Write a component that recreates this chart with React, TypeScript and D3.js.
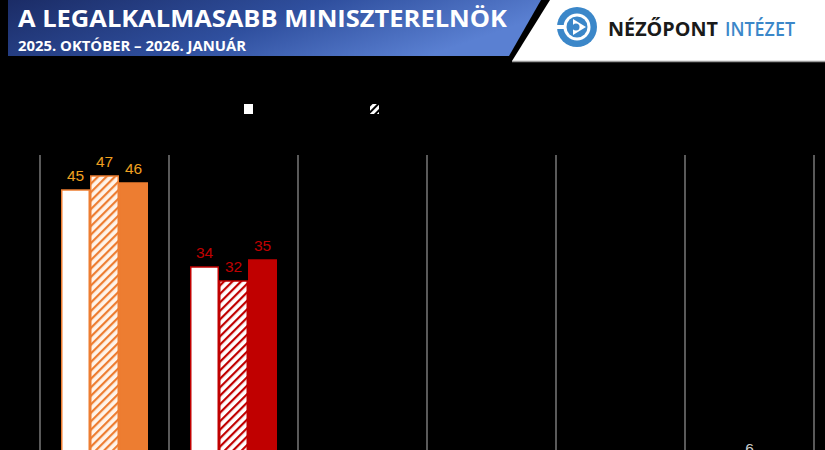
import React from "react";
import * as d3 from "d3";

const categories = ["c1", "c2", "c3", "c4", "c5", "c6"];
const seriesKeys = ["okt", "dec", "jan"];
const seriesOkt: (number | null)[] = [45, 34, null, null, null, null];
const seriesDec: (number | null)[] = [47, 32, null, null, null, 6];
const seriesJan: (number | null)[] = [46, 35, null, null, null, null];
const categoryColors = ["#ED7D31", "#C00000", "#888888", "#888888", "#888888", "#888888"];
const labelColors = ["#F0A020", "#C00000", "#bbbbbb", "#bbbbbb", "#bbbbbb", "#cccccc"];
const title = "A LEGALKALMASABB MINISZTERELNÖK";
const subtitle = "2025. OKTÓBER – 2026. JANUÁR";

const W = 825;
const H = 450;

export default function App() {
  const x = d3.scaleBand<string>().domain(categories).range([40, 814]).paddingInner(0);
  const inner = d3.scaleBand<string>().domain(seriesKeys).range([0, 87]);
  const y = d3.scaleLinear().domain([0, 50]).range([505, 155]);
  const all = [seriesOkt, seriesDec, seriesJan];
  const bw = x.bandwidth();
  const off = (bw - 87) / 2;

  return (
    <svg width={W} height={H} style={{ position: "absolute", left: 0, top: 0, background: "#000" }}
      fontFamily="'Liberation Sans', Arial, sans-serif">
      <defs>
        <linearGradient id="ban" x1="0" y1="0" x2="1" y2="0.3">
          <stop offset="0" stopColor="#1b2c66" />
          <stop offset="0.55" stopColor="#2f4f9e" />
          <stop offset="1" stopColor="#5a80d2" />
        </linearGradient>
        {categoryColors.map((c, i) => (
          <pattern key={i} id={`hatch${i}`} patternUnits="userSpaceOnUse" width="6" height="6"
            patternTransform="rotate(45)">
            <rect width="6" height="6" fill={i === 0 ? "#fff4ea" : "#ffffff"} />
            <rect width="2.2" height="6" fill={c} />
          </pattern>
        ))}
        <pattern id="hatchLeg" patternUnits="userSpaceOnUse" width="5" height="5" patternTransform="rotate(45)">
          <rect width="5" height="5" fill="#fff" />
          <rect width="2" height="5" fill="#000" />
        </pattern>
      </defs>
      <rect width={W} height={H} fill="#000" />

      {/* header */}
      <polygon points="8,0 541,0 509,56 8,56" fill="url(#ban)" />
      <polygon points="550,0 825,0 825,61 512,61" fill="#fff" />
      <line x1={512} y1={61.5} x2={825} y2={61.5} stroke="#9a9a9a" strokeWidth={1.5} />
      <text x={18} y={27} fill="#fff" fontSize={24} fontWeight={700} textLength={489}
        lengthAdjust="spacingAndGlyphs" fontFamily="'Open Sans', sans-serif">{title}</text>
      <text x={18} y={51} fill="#fff" fontSize={14} fontWeight={700} textLength={228}
        lengthAdjust="spacingAndGlyphs" fontFamily="'Open Sans', sans-serif">{subtitle}</text>

      {/* logo */}
      <g transform="translate(577,27)">
        <circle r={20} fill="#3b87c9" />
        <circle r={13.5} fill="#fff" />
        <circle r={10.5} fill="#3b87c9" />
        <path d="M-4,-8 L9,0 L-4,8 Z" fill="#fff" />
        <circle r={3.5} cx={-1} fill="#3b87c9" />
        <rect x={-22} y={-2} width={10} height={4} fill="#fff" />
      </g>
      <text x={608} y={36} fontSize={20} fontWeight={700} fill="#1a1a1a" textLength={110}
        lengthAdjust="spacingAndGlyphs" fontFamily="'Open Sans', sans-serif">NÉZŐPONT</text>
      <text x={725} y={36} fontSize={20} fontWeight={600} fill="#3b87c9" textLength={70}
        lengthAdjust="spacingAndGlyphs" fontFamily="'Open Sans', sans-serif">INTÉZET</text>

      {/* legend markers */}
      <rect x={244} y={104} width={9} height={10} fill="#fff" />
      <rect x={370} y={104} width={9} height={10} fill="url(#hatchLeg)" />

      {/* grid lines */}
      {d3.range(categories.length + 1).map((i) => {
        const gx = 40 + i * bw;
        return <line key={i} x1={gx} x2={gx} y1={155} y2={H} stroke="#8a8a8a" strokeWidth={1.3} />;
      })}

      {/* bars */}
      {categories.map((c, ci) => (
        <g key={c} transform={`translate(${(x(c) as number) + off},0)`}>
          {seriesKeys.map((s, si) => {
            const v = all[si][ci];
            if (v == null) return null;
            const bx = inner(s) as number;
            const top = y(v);
            const col = categoryColors[ci];
            const fill = si === 0 ? "#ffffff" : si === 1 ? `url(#hatch${ci})` : col;
            return (
              <g key={s}>
                <rect x={bx + 0.75} y={top} width={inner.bandwidth() - 1.5} height={y(0) - top}
                  fill={fill} stroke={col} strokeWidth={1.5} />
                <text x={bx + inner.bandwidth() / 2} y={top - 9} textAnchor="middle"
                  fontSize={15.5} fill={labelColors[ci]}>{v}</text>
              </g>
            );
          })}
        </g>
      ))}
    </svg>
  );
}
